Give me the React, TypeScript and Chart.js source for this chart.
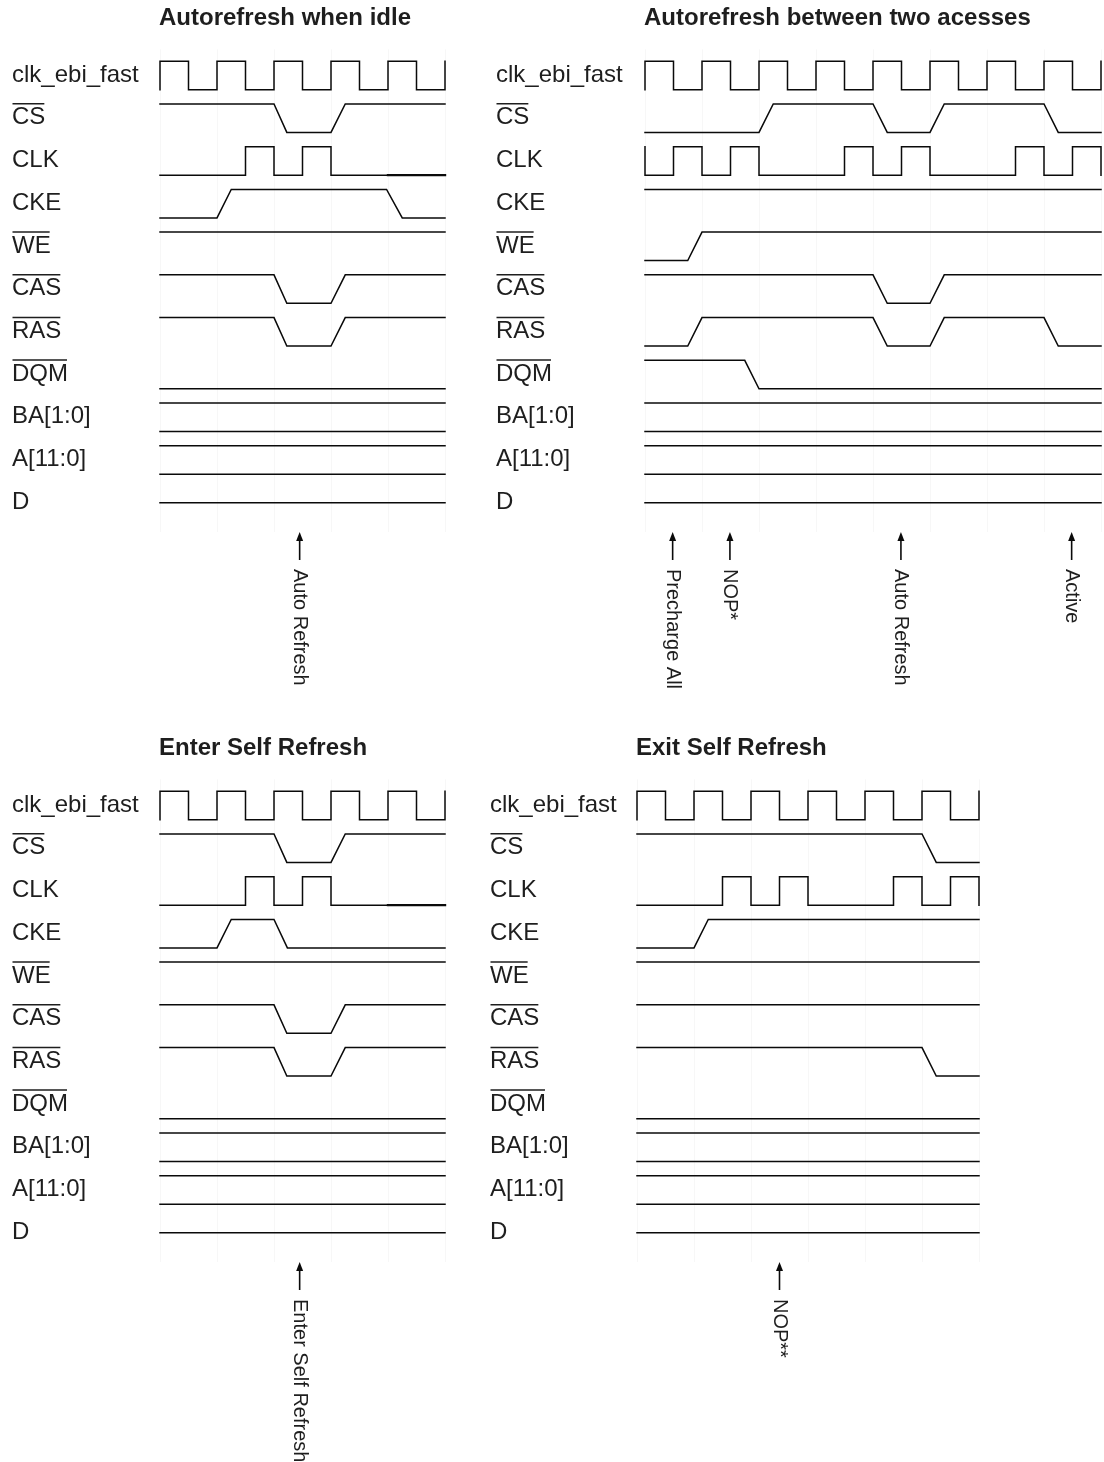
import React, { useEffect, useRef } from 'react';
import { Chart, registerables } from 'chart.js';

Chart.register(...registerables);

type Pt = [number, number]; // [time in half clock periods, level: 1 high, 0 low, 0.5 floating]

// ---------- shared labels ----------
const signalNames = ['clk_ebi_fast', 'CS', 'CLK', 'CKE', 'WE', 'CAS', 'RAS', 'DQM', 'BA[1:0]', 'A[11:0]', 'D'];
const overbarSignals = ['CS', 'WE', 'CAS', 'RAS', 'DQM'];

// ---------- Panel 1: Autorefresh when idle ----------
const idleTitle = 'Autorefresh when idle';
const idleSpan = 10;
const idleClkFast: Pt[] = [[0,0],[0,1],[1,1],[1,0],[2,0],[2,1],[3,1],[3,0],[4,0],[4,1],[5,1],[5,0],[6,0],[6,1],[7,1],[7,0],[8,0],[8,1],[9,1],[9,0],[10,0],[10,1]];
const idleCS: Pt[] = [[0,1],[4,1],[4.45,0],[6,0],[6.5,1],[10,1]];
const idleCLK: Pt[] = [[0,0],[3,0],[3,1],[4,1],[4,0],[5,0],[5,1],[6,1],[6,0],[10,0]];
const idleCLKHeavy: Pt[] = [[8,0],[10,0]];
const idleCKE: Pt[] = [[0,0],[2,0],[2.5,1],[7.95,1],[8.5,0],[10,0]];
const idleWE: Pt[] = [[0,1],[10,1]];
const idleCAS: Pt[] = [[0,1],[4,1],[4.45,0],[6,0],[6.5,1],[10,1]];
const idleRAS: Pt[] = [[0,1],[4,1],[4.45,0],[6,0],[6.5,1],[10,1]];
const idleDQM: Pt[] = [[0,0],[10,0]];
const idleBusHigh: Pt[] = [[0,1],[10,1]];
const idleBusLow: Pt[] = [[0,0],[10,0]];
const idleD: Pt[] = [[0,0.5],[10,0.5]];
const idleEventTimes = [4.9];
const idleEventLabels = ['Auto Refresh'];

// ---------- Panel 2: Autorefresh between two acesses ----------
const betweenTitle = 'Autorefresh between two acesses';
const betweenSpan = 16;
const betweenClkFast: Pt[] = [[0,0],[0,1],[1,1],[1,0],[2,0],[2,1],[3,1],[3,0],[4,0],[4,1],[5,1],[5,0],[6,0],[6,1],[7,1],[7,0],[8,0],[8,1],[9,1],[9,0],[10,0],[10,1],[11,1],[11,0],[12,0],[12,1],[13,1],[13,0],[14,0],[14,1],[15,1],[15,0],[16,0],[16,1]];
const betweenCS: Pt[] = [[0,0],[4,0],[4.5,1],[8,1],[8.5,0],[10,0],[10.5,1],[14,1],[14.5,0],[16,0]];
const betweenCLK: Pt[] = [[0,1],[0,0],[1,0],[1,1],[2,1],[2,0],[3,0],[3,1],[4,1],[4,0],[7,0],[7,1],[8,1],[8,0],[9,0],[9,1],[10,1],[10,0],[13,0],[13,1],[14,1],[14,0],[15,0],[15,1],[16,1],[16,0]];
const betweenCKE: Pt[] = [[0,1],[16,1]];
const betweenWE: Pt[] = [[0,0],[1.5,0],[2,1],[16,1]];
const betweenCAS: Pt[] = [[0,1],[8,1],[8.5,0],[10,0],[10.5,1],[16,1]];
const betweenRAS: Pt[] = [[0,0],[1.5,0],[2,1],[8,1],[8.5,0],[10,0],[10.5,1],[14,1],[14.5,0],[16,0]];
const betweenDQM: Pt[] = [[0,1],[3.5,1],[4,0],[16,0]];
const betweenBusHigh: Pt[] = [[0,1],[16,1]];
const betweenBusLow: Pt[] = [[0,0],[16,0]];
const betweenD: Pt[] = [[0,0.5],[16,0.5]];
const betweenEventTimes = [0.97, 2.98, 8.98, 14.97];
const betweenEventLabels = ['Precharge All', 'NOP*', 'Auto Refresh', 'Active'];

// ---------- Panel 3: Enter Self Refresh ----------
const enterTitle = 'Enter Self Refresh';
const enterSpan = 10;
const enterClkFast: Pt[] = [[0,0],[0,1],[1,1],[1,0],[2,0],[2,1],[3,1],[3,0],[4,0],[4,1],[5,1],[5,0],[6,0],[6,1],[7,1],[7,0],[8,0],[8,1],[9,1],[9,0],[10,0],[10,1]];
const enterCS: Pt[] = [[0,1],[4,1],[4.45,0],[6,0],[6.5,1],[10,1]];
const enterCLK: Pt[] = [[0,0],[3,0],[3,1],[4,1],[4,0],[5,0],[5,1],[6,1],[6,0],[10,0]];
const enterCLKHeavy: Pt[] = [[8,0],[10,0]];
const enterCKE: Pt[] = [[0,0],[2,0],[2.5,1],[4,1],[4.47,0],[10,0]];
const enterWE: Pt[] = [[0,1],[10,1]];
const enterCAS: Pt[] = [[0,1],[4,1],[4.45,0],[6,0],[6.5,1],[10,1]];
const enterRAS: Pt[] = [[0,1],[4,1],[4.45,0],[6,0],[6.5,1],[10,1]];
const enterDQM: Pt[] = [[0,0],[10,0]];
const enterBusHigh: Pt[] = [[0,1],[10,1]];
const enterBusLow: Pt[] = [[0,0],[10,0]];
const enterD: Pt[] = [[0,0.5],[10,0.5]];
const enterEventTimes = [4.9];
const enterEventLabels = ['Enter Self Refresh'];

// ---------- Panel 4: Exit Self Refresh ----------
const exitTitle = 'Exit Self Refresh';
const exitSpan = 12;
const exitClkFast: Pt[] = [[0,0],[0,1],[1,1],[1,0],[2,0],[2,1],[3,1],[3,0],[4,0],[4,1],[5,1],[5,0],[6,0],[6,1],[7,1],[7,0],[8,0],[8,1],[9,1],[9,0],[10,0],[10,1],[11,1],[11,0],[12,0],[12,1]];
const exitCS: Pt[] = [[0,1],[10,1],[10.5,0],[12,0]];
const exitCLK: Pt[] = [[0,0],[3,0],[3,1],[4,1],[4,0],[5,0],[5,1],[6,1],[6,0],[9,0],[9,1],[10,1],[10,0],[11,0],[11,1],[12,1],[12,0]];
const exitCKE: Pt[] = [[0,0],[2,0],[2.5,1],[12,1]];
const exitWE: Pt[] = [[0,1],[12,1]];
const exitCAS: Pt[] = [[0,1],[12,1]];
const exitRAS: Pt[] = [[0,1],[10,1],[10.5,0],[12,0]];
const exitDQM: Pt[] = [[0,0],[12,0]];
const exitBusHigh: Pt[] = [[0,1],[12,1]];
const exitBusLow: Pt[] = [[0,0],[12,0]];
const exitD: Pt[] = [[0,0.5],[12,0.5]];
const exitEventTimes = [5];
const exitEventLabels = ['NOP**'];

// ---------- styling / layout ----------
const FONT = '"Liberation Sans", Arial, Helvetica, sans-serif';
const INK = '#0a0a0a';
const TEXT = '#1e1e1e';
const GRID = 'rgba(0,0,0,0.03)';
const HALF = 28.5;      // px per half clock period
const ROW0 = 75;        // y of first row centre inside a panel canvas
const ROW_GAP = 42.73;  // px between rows
const HIGH_OFF = -0.323;
const LOW_OFF = 0.344;
const Y_MIN = -0.6;
const Y_MAX = 10.7;
const TITLE_Y = 18;
const ARROW_TIP = 532;
const TEXT_START = 569;

type Wave = { row: number; pts: Pt[]; heavy?: boolean };
type Spec = {
  left: number; top: number; width: number; height: number; x0: number; labelX: number;
  span: number; title: string; waves: Wave[]; eventTimes: number[]; eventLabels: string[];
};

const buildWaves = (w: { clk: Pt[]; cs: Pt[]; clkk: Pt[]; cke: Pt[]; we: Pt[]; cas: Pt[]; ras: Pt[]; dqm: Pt[]; hi: Pt[]; lo: Pt[]; d: Pt[]; heavy?: Pt[] }): Wave[] => {
  const list: Wave[] = [
    { row: 0, pts: w.clk }, { row: 1, pts: w.cs }, { row: 2, pts: w.clkk }, { row: 3, pts: w.cke },
    { row: 4, pts: w.we }, { row: 5, pts: w.cas }, { row: 6, pts: w.ras }, { row: 7, pts: w.dqm },
    { row: 8, pts: w.hi }, { row: 8, pts: w.lo }, { row: 9, pts: w.hi }, { row: 9, pts: w.lo },
    { row: 10, pts: w.d },
  ];
  if (w.heavy) list.push({ row: 2, pts: w.heavy, heavy: true });
  return list;
};

const specs: Spec[] = [
  {
    left: 0, top: 0, width: 480, height: 730, x0: 160, labelX: 12, span: idleSpan, title: idleTitle,
    waves: buildWaves({ clk: idleClkFast, cs: idleCS, clkk: idleCLK, cke: idleCKE, we: idleWE, cas: idleCAS, ras: idleRAS, dqm: idleDQM, hi: idleBusHigh, lo: idleBusLow, d: idleD, heavy: idleCLKHeavy }),
    eventTimes: idleEventTimes, eventLabels: idleEventLabels,
  },
  {
    left: 480, top: 0, width: 624, height: 730, x0: 645, labelX: 16, span: betweenSpan, title: betweenTitle,
    waves: buildWaves({ clk: betweenClkFast, cs: betweenCS, clkk: betweenCLK, cke: betweenCKE, we: betweenWE, cas: betweenCAS, ras: betweenRAS, dqm: betweenDQM, hi: betweenBusHigh, lo: betweenBusLow, d: betweenD }),
    eventTimes: betweenEventTimes, eventLabels: betweenEventLabels,
  },
  {
    left: 0, top: 730, width: 480, height: 732, x0: 160, labelX: 12, span: enterSpan, title: enterTitle,
    waves: buildWaves({ clk: enterClkFast, cs: enterCS, clkk: enterCLK, cke: enterCKE, we: enterWE, cas: enterCAS, ras: enterRAS, dqm: enterDQM, hi: enterBusHigh, lo: enterBusLow, d: enterD, heavy: enterCLKHeavy }),
    eventTimes: enterEventTimes, eventLabels: enterEventLabels,
  },
  {
    left: 480, top: 730, width: 624, height: 732, x0: 637, labelX: 10, span: exitSpan, title: exitTitle,
    waves: buildWaves({ clk: exitClkFast, cs: exitCS, clkk: exitCLK, cke: exitCKE, we: exitWE, cas: exitCAS, ras: exitRAS, dqm: exitDQM, hi: exitBusHigh, lo: exitBusLow, d: exitD }),
    eventTimes: exitEventTimes, eventLabels: exitEventLabels,
  },
];

const levelToY = (row: number, lvl: number) => row + LOW_OFF + lvl * (HIGH_OFF - LOW_OFF);

const decorPlugin = (spec: Spec) => ({
  id: 'timingDecor',
  afterDraw(chart: any) {
    const ctx: CanvasRenderingContext2D = chart.ctx;
    const xs = chart.scales.x;
    const ys = chart.scales.y;
    ctx.save();
    ctx.fillStyle = TEXT;
    ctx.strokeStyle = TEXT;
    ctx.textAlign = 'left';
    ctx.textBaseline = 'middle';

    // title
    ctx.font = `bold 24px ${FONT}`;
    ctx.fillText(spec.title, xs.getPixelForValue(0) - 1, TITLE_Y);

    // signal names
    ctx.font = `24px ${FONT}`;
    signalNames.forEach((name, i) => {
      const y = ys.getPixelForValue(i);
      ctx.fillText(name, spec.labelX, y);
      if (overbarSignals.includes(name)) {
        const w = ctx.measureText(name).width;
        ctx.lineWidth = 1.5;
        ctx.beginPath();
        ctx.moveTo(spec.labelX + 0.5, y - 14);
        ctx.lineTo(spec.labelX + w - 1, y - 14);
        ctx.stroke();
      }
    });

    // event arrows + rotated labels
    ctx.font = `20px ${FONT}`;
    spec.eventTimes.forEach((t, k) => {
      const x = xs.getPixelForValue(t);
      ctx.fillStyle = INK;
      ctx.strokeStyle = INK;
      ctx.beginPath();
      ctx.moveTo(x, ARROW_TIP);
      ctx.lineTo(x - 3.5, ARROW_TIP + 9);
      ctx.lineTo(x + 3.5, ARROW_TIP + 9);
      ctx.closePath();
      ctx.fill();
      ctx.lineWidth = 1.6;
      ctx.beginPath();
      ctx.moveTo(x, ARROW_TIP + 8);
      ctx.lineTo(x, ARROW_TIP + 28);
      ctx.stroke();
      ctx.save();
      ctx.translate(x, TEXT_START);
      ctx.rotate(Math.PI / 2);
      ctx.fillStyle = TEXT;
      ctx.textBaseline = 'middle';
      ctx.fillText(spec.eventLabels[k], 0, 0);
      ctx.restore();
    });
    ctx.restore();
  },
});

function TimingPanel({ spec }: { spec: Spec }) {
  const ref = useRef<HTMLCanvasElement>(null);
  useEffect(() => {
    const canvas = ref.current;
    if (!canvas) return;
    const datasets = spec.waves.map((w) => ({
      data: w.pts.map(([t, l]) => ({ x: t, y: levelToY(w.row, l) })),
      borderColor: INK,
      backgroundColor: INK,
      borderWidth: w.heavy ? 2.4 : 1.5,
      pointRadius: 0,
      tension: 0,
      fill: false,
      clip: false as any,
      borderCapStyle: 'square' as const,
    }));
    const areaTop = ROW0 + Y_MIN * ROW_GAP;
    const areaBottom = ROW0 + Y_MAX * ROW_GAP;
    const padLeft = spec.x0 - spec.left;
    const padRight = spec.width - (padLeft + spec.span * HALF);
    const chart = new Chart(canvas, {
      type: 'line',
      data: { datasets },
      options: {
        animation: false,
        responsive: false,
        events: [],
        layout: { padding: { left: padLeft, right: padRight, top: areaTop, bottom: spec.height - areaBottom } },
        plugins: { legend: { display: false }, tooltip: { enabled: false }, title: { display: false } },
        scales: {
          x: {
            type: 'linear', min: 0, max: spec.span, display: true,
            ticks: { display: false, stepSize: 2 },
            grid: { color: GRID, drawTicks: false, lineWidth: 1 },
            border: { display: false },
          },
          y: { type: 'linear', min: Y_MIN, max: Y_MAX, reverse: true, display: false },
        },
      },
      plugins: [decorPlugin(spec)],
    });
    return () => chart.destroy();
  }, [spec]);
  return (
    <canvas
      ref={ref}
      width={spec.width}
      height={spec.height}
      style={{ position: 'absolute', left: spec.left, top: spec.top, width: spec.width, height: spec.height }}
    />
  );
}

export default function App() {
  return (
    <div style={{ position: 'absolute', left: 0, top: 0, width: 1104, height: 1462, background: '#ffffff', overflow: 'hidden' }}>
      {specs.map((s, i) => (
        <TimingPanel key={i} spec={s} />
      ))}
    </div>
  );
}
